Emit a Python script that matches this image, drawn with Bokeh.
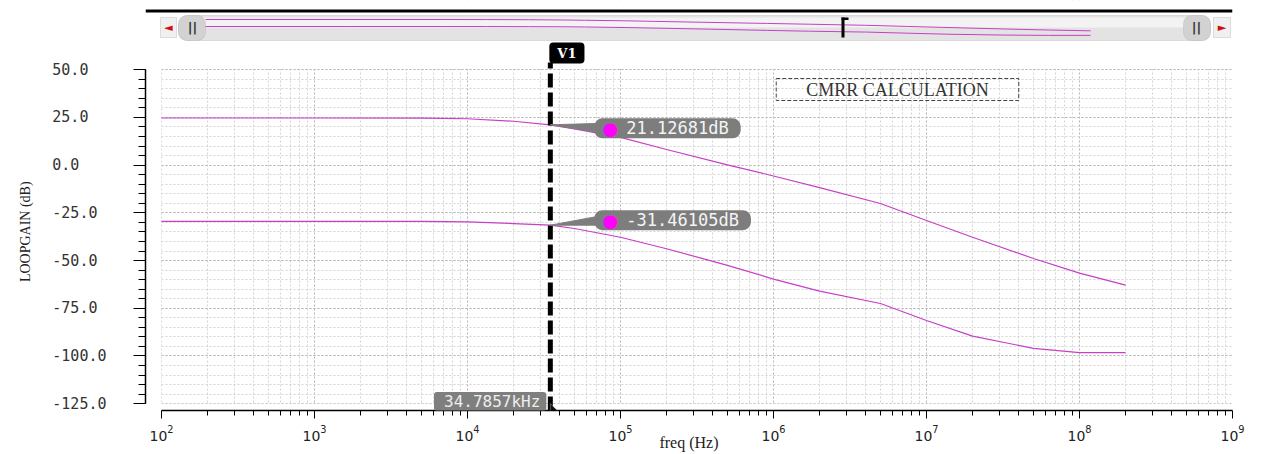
import math
from bokeh.plotting import figure
from bokeh.models import (Range1d, FixedTicker, SingleIntervalTicker, Label, LogScale,
                          LinearScale, BoxAnnotation, PolyAnnotation)
from bokeh.embed import file_html
from bokeh.resources import INLINE

# ---------------- data ----------------
freq_hz = [1e2, 1e3, 5e3, 1e4, 2e4, 34785.7, 5e4, 1e5, 2e5, 5e5, 1e6, 2e6,
           5e6, 1e7, 2e7, 5e7, 1e8, 2e8]
loopgain_diff_db = [24.7, 24.7, 24.6, 24.3, 23.0, 21.12681, 19.0, 14.5, 8.2, 0.1, -5.7,
                    -11.8, -20.1, -29.0, -37.8, -48.9, -56.6, -62.9]
loopgain_cm_db = [-29.5, -29.5, -29.5, -29.7, -30.6, -31.46105, -33.2, -37.8, -43.8,
                  -52.5, -59.7, -66.0, -72.5, -81.4, -89.6, -96.0, -98.2, -98.2]

cursor_name = "V1"
cursor_freq_hz = 34785.7
cursor_freq_label = "34.7857kHz"
cursor_values_db = [21.12681, -31.46105]
cursor_value_labels = ["21.12681dB", "-31.46105dB"]

x_major_ticks = [10.0 ** e for e in range(2, 10)]
x_minor_ticks = [m * 10.0 ** e for e in range(2, 9) for m in range(2, 10)]
y_ticks = [50, 25, 0, -25, -50, -75, -100, -125]
y_tick_labels = ["50.0", "25.0", "0.0", "-25.0", "-50.0", "-75.0", "-100.0", "-125.0"]
x_label = "freq (Hz)"
y_label = "LOOPGAIN (dB)"
note_text = "CMRR CALCULATION"

# ---------------- layout constants (page pixels) ----------------
W, H = 1287, 454
FRAME_L, FRAME_R, FRAME_T, FRAME_B = 145, 1232, 0, 410
X_DEC0 = 161.0      # page x of the first decade
DEC_PX = 153.0      # pixels per decade
Y_TOP_V, Y_TOP_PX = 50.0, 69.2
DB_PX = 1.9086      # pixels per dB

x_start = 10 ** (2 - (X_DEC0 - FRAME_L) / DEC_PX)
x_end = 10 ** (2 + (FRAME_R - X_DEC0) / DEC_PX)
y_end = Y_TOP_V + (Y_TOP_PX - FRAME_T) / DB_PX
y_start = Y_TOP_V - (FRAME_B - Y_TOP_PX) / DB_PX


def fx(px):  # page x -> frame-relative screen x
    return px - FRAME_L


def fy(py):  # page y -> frame-relative screen y (up)
    return FRAME_B - py


def dxs(f):
    return fx(X_DEC0 + (math.log10(f) - 2) * DEC_PX)


def dys(v):
    return fy(Y_TOP_PX + (Y_TOP_V - v) * DB_PX)


def page_to_db(py):
    return Y_TOP_V + (Y_TOP_PX - py) / DB_PX


def sbox(fig, l, r, t, b, level="annotation", **kw):
    fig.add_layout(BoxAnnotation(left=fx(l), right=fx(r), top=fy(t), bottom=fy(b),
                                 left_units="screen", right_units="screen",
                                 top_units="screen", bottom_units="screen",
                                 level=level, **kw))


CURVE = "#c63fc6"
NBSP = "\u00a0"

p = figure(width=W, height=H, x_axis_type="log",
           x_range=Range1d(x_start, x_end), y_range=Range1d(y_start, y_end),
           output_backend="svg", toolbar_location=None,
           min_border_left=FRAME_L, min_border_right=W - FRAME_R,
           min_border_top=FRAME_T, min_border_bottom=H - FRAME_B)
p.outline_line_color = None
p.background_fill_color = "white"
p.border_fill_color = "white"

xt = FixedTicker(ticks=x_major_ticks, minor_ticks=x_minor_ticks)
yt = SingleIntervalTicker(interval=25, num_minor_ticks=5)

xa = p.xaxis[0]
xa.ticker = xt
xa.bounds = (x_major_ticks[0], x_major_ticks[-1])
xa.axis_line_color = "black"
xa.axis_line_width = 1.5
xa.major_tick_out = 8
xa.major_tick_in = 0
xa.minor_tick_out = 5
xa.minor_tick_in = 0
xa.major_tick_line_color = "black"
xa.minor_tick_line_color = "black"
xa.major_label_standoff = 6
xa.major_label_text_font = "DejaVu Sans"
xa.major_label_text_font_size = "14px"
xa.major_label_text_color = "#222222"
xa.axis_label = x_label
xa.axis_label_text_font = "Liberation Serif"
xa.axis_label_text_font_size = "16px"
xa.axis_label_text_font_style = "normal"
xa.axis_label_text_color = "#222222"
xa.axis_label_standoff = -10

ya = p.yaxis[0]
ya.ticker = yt
ya.bounds = (y_ticks[-1], y_ticks[0])
ya.major_label_overrides = {v: lab.ljust(6, NBSP) for v, lab in zip(y_ticks, y_tick_labels)}
ya.major_label_text_font = "DejaVu Sans Mono"
ya.major_label_text_font_size = "15px"
ya.major_label_text_color = "#333333"
ya.major_label_standoff = 27
ya.axis_line_color = "black"
ya.axis_line_width = 1.5
ya.major_tick_out = 12
ya.major_tick_in = 0
ya.minor_tick_out = 7
ya.minor_tick_in = 0
ya.major_tick_line_color = "black"
ya.minor_tick_line_color = "black"
# trailing no-break spaces shift the centred title down to sit beside the labelled span
ya.axis_label = y_label + NBSP * 15
ya.axis_label_text_font = "Liberation Serif"
ya.axis_label_text_font_size = "14px"
ya.axis_label_text_font_style = "normal"
ya.axis_label_text_color = "#222222"
ya.axis_label_standoff = 16

for g, t in ((p.xgrid[0], xt), (p.ygrid[0], yt)):
    g.ticker = t
    g.grid_line_color = "#b4b4b4"
    g.grid_line_dash = "2 2"
    g.grid_line_width = 1
    g.minor_grid_line_color = "#d4d4d4"
    g.minor_grid_line_dash = "2 2"
    g.minor_grid_line_width = 1

# hide grid outside the labelled area (axes are offset from the grid; strip above)
for kw in (dict(right=x_major_ticks[0]), dict(top=y_ticks[-1]), dict(bottom=y_ticks[0] + 0.4)):
    p.add_layout(BoxAnnotation(fill_color="white", fill_alpha=1, line_color=None,
                               level="underlay", **kw))

# ---------------- overview strip (top of the page) ----------------
S_X0, S_X1 = 205.0, 1090.0
s_k = (math.log10(freq_hz[-1]) - math.log10(freq_hz[0])) / (S_X1 - S_X0)
S_A, S_B = 22.2, 0.129
p.extra_x_ranges = {"strip": Range1d(10 ** (2 - (S_X0 - FRAME_L) * s_k),
                                     10 ** (2 + (FRAME_R - S_X0) * s_k))}
p.extra_x_scales = {"strip": LogScale()}
p.extra_y_ranges = {"strip": Range1d((S_A - FRAME_B) / S_B, (S_A - FRAME_T) / S_B)}
p.extra_y_scales = {"strip": LinearScale()}

sbox(p, FRAME_L, FRAME_R, 9, 12, fill_color="black", fill_alpha=1, line_color=None)
sbox(p, 178, 1210, 15, 40, level="underlay", fill_color="#e3e3e3", fill_alpha=1,
     line_color="#a8a8a8", border_radius=9)
sbox(p, 182, 1206, 17, 27, level="underlay", fill_color="#f3f3f3", fill_alpha=1,
     line_color=None, border_radius=5)
sbox(p, 178, 205, 15, 40, level="underlay", fill_color="#d2d2d2", fill_alpha=1,
     line_color="#a8a8a8", border_radius=8)
sbox(p, 1183, 1210, 15, 40, level="underlay", fill_color="#d2d2d2", fill_alpha=1,
     line_color="#a8a8a8", border_radius=8)
sbox(p, 160, 176, 17, 37, fill_color="#f0f0f0", fill_alpha=1, line_color="#a0a0a0")
sbox(p, 1213, 1230, 17, 37, fill_color="#f0f0f0", fill_alpha=1, line_color="#a0a0a0")
sbox(p, 841, 844, 17, 37, fill_color="black", fill_alpha=1, line_color=None)
sbox(p, 841, 848, 17, 19.5, fill_color="black", fill_alpha=1, line_color=None)
for xx, t in ((168, "◄"), (1221.5, "►")):
    p.add_layout(Label(x=fx(xx), y=fy(27), x_units="screen", y_units="screen", text=t,
                       text_font="DejaVu Sans", text_font_size="11px", text_color="#d01010",
                       text_align="center", text_baseline="middle"))
for xx in (192, 1196):
    p.add_layout(Label(x=fx(xx), y=fy(27), x_units="screen", y_units="screen", text="||",
                       text_font="DejaVu Sans", text_font_style="bold", text_font_size="13px",
                       text_color="#333333", text_align="center", text_baseline="middle"))
p.line(freq_hz, loopgain_diff_db, line_color=CURVE, line_width=1,
       x_range_name="strip", y_range_name="strip")
p.line(freq_hz, loopgain_cm_db, line_color=CURVE, line_width=1,
       x_range_name="strip", y_range_name="strip")

# ---------------- curves ----------------
p.line(freq_hz, loopgain_diff_db, line_color=CURVE, line_width=1.2)
p.line(freq_hz, loopgain_cm_db, line_color=CURVE, line_width=1.2)

# note box
p.add_layout(Label(x=fx(897), y=fy(89), x_units="screen", y_units="screen", text=note_text,
                   text_font="Liberation Serif", text_font_size="18px", text_color="#333333",
                   text_align="center", text_baseline="middle",
                   border_line_color="#444444", border_line_dash="4 2", border_line_width=1,
                   padding=dict(left=30, right=30, top=1, bottom=1)))

# cursor line V1
p.segment(x0=[cursor_freq_hz], y0=[y_start], x1=[cursor_freq_hz], y1=[page_to_db(62)],
          line_color="black", line_width=5, line_dash="14 5")
cx0 = dxs(cursor_freq_hz)
p.add_layout(Label(x=cx0 - 1, y=fy(52.5), x_units="screen", y_units="screen", text=cursor_name,
                   text_font="DejaVu Serif", text_font_style="bold", text_font_size="13px",
                   text_color="white", text_align="left", text_baseline="middle",
                   background_fill_color="black", background_fill_alpha=1, border_radius=4,
                   padding=dict(left=8, right=8, top=3, bottom=3)))
p.add_layout(Label(x=cx0 - 4, y=fy(401), x_units="screen", y_units="screen",
                   text=cursor_freq_label, text_font="DejaVu Sans Mono", text_font_size="16px",
                   text_color="#eeeeee", text_align="right", text_baseline="middle",
                   background_fill_color="#7f7f7f", background_fill_alpha=1, border_radius=3,
                   padding=dict(left=10, right=6, top=0, bottom=0)))

# callouts for the cursor values
callout_dy = [-3.5, 5.0]
box_left = cx0 + 44
for val, txt, ddy in zip(cursor_values_db, cursor_value_labels, callout_dy):
    py = dys(val)
    cy = py + ddy
    p.add_layout(PolyAnnotation(xs=[cx0, box_left + 10, box_left + 10],
                                ys=[py, cy + 5, cy - 5], xs_units="screen", ys_units="screen",
                                fill_color="#7d7d7d", fill_alpha=1, line_color="#7d7d7d",
                                line_alpha=1))
    p.add_layout(Label(x=box_left, y=cy, x_units="screen", y_units="screen", text=txt,
                       text_font="DejaVu Sans Mono", text_font_size="17px",
                       text_color="#f4f4f4", text_align="left", text_baseline="middle",
                       background_fill_color="#7d7d7d", background_fill_alpha=1,
                       border_radius=8, padding=dict(left=32, right=12, top=0, bottom=0)))
    p.add_layout(Label(x=box_left + 16, y=cy, x_units="screen", y_units="screen", text="●",
                       text_font="DejaVu Sans", text_font_size="18px", text_color="#ff00ff",
                       text_align="center", text_baseline="middle"))

# mouse pointer
ptr = [(0, 0), (0, 17), (4, 13), (7, 20), (10, 19), (7, 12), (12, 12)]
p.add_layout(PolyAnnotation(xs=[cx0 + a for a, b in ptr], ys=[fy(403 + b) for a, b in ptr],
                            xs_units="screen", ys_units="screen", fill_color="#111111",
                            fill_alpha=1, line_color="white", line_width=1))

open("out.html", "w").write(file_html(p, INLINE))
